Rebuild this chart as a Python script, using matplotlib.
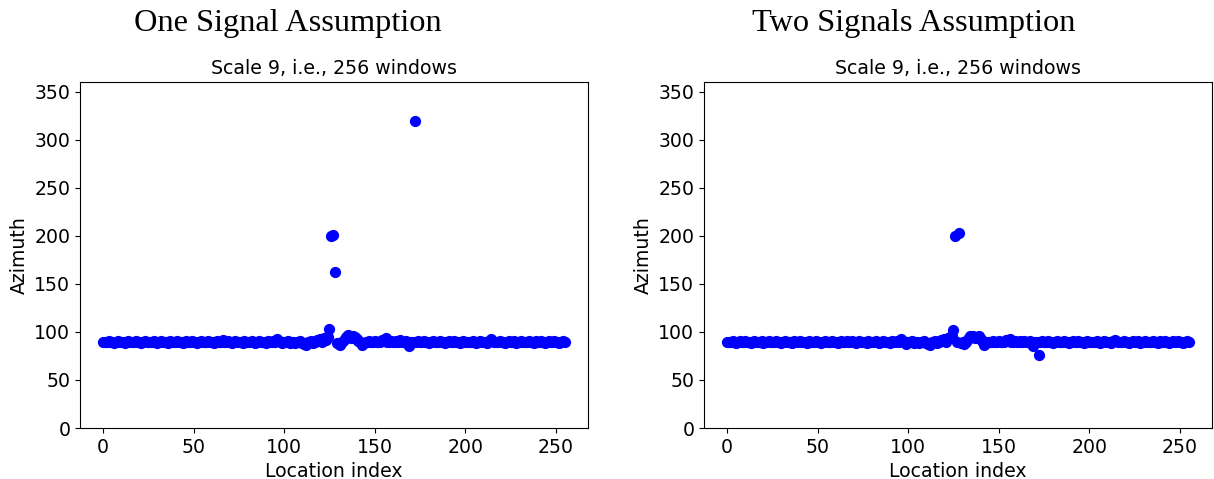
import matplotlib
matplotlib.use("Agg")
import matplotlib.pyplot as plt
import numpy as np

# Azimuth estimates per location index (0..255)
one_signal = [
    90, 89, 90, 91, 89, 90, 88, 90, 91, 89, 90, 89, 88, 90, 91, 90,
    89, 90, 91, 90, 89, 88, 90, 91, 89, 90, 90, 89, 91, 90, 88, 90,
    91, 89, 90, 90, 88, 91, 90, 89, 90, 91, 89, 90, 88, 90, 91, 89,
    90, 91, 89, 90, 88, 90, 91, 90, 89, 90, 91, 89, 90, 88, 90, 91,
    89, 90, 92, 90, 89, 91, 90, 88, 90, 91, 89, 90, 90, 88, 91, 90,
    89, 90, 91, 89, 88, 90, 91, 90, 89, 90, 88, 91, 90, 89, 91, 90,
    93, 91, 89, 88, 90, 89, 91, 88, 90, 89, 88, 90, 89, 91, 88, 87,
    86, 89, 90, 91, 88, 90, 92, 91, 93, 90, 94, 92, 95, 103, 200, 201,
    162, 88, 87, 86, 89, 92, 95, 97, 96, 94, 96, 95, 93, 91, 89, 86,
    88, 90, 89, 91, 90, 89, 91, 90, 89, 90, 92, 91, 94, 90, 89, 91,
    90, 89, 91, 90, 92, 90, 89, 91, 88, 85, 89, 90, 319, 90, 91, 89,
    90, 91, 89, 90, 88, 90, 91, 90, 89, 90, 91, 89, 90, 88, 90, 91,
    89, 90, 91, 90, 89, 88, 90, 91, 89, 90, 90, 89, 91, 90, 88, 90,
    91, 89, 90, 90, 88, 91, 93, 91, 90, 89, 90, 91, 89, 90, 88, 90,
    91, 89, 90, 91, 88, 90, 89, 91, 90, 89, 90, 91, 89, 90, 88, 91,
    90, 89, 91, 90, 88, 90, 91, 89, 90, 91, 89, 90, 88, 90, 91, 89,
]

two_signals = [
    90, 90, 89, 91, 90, 88, 90, 91, 89, 90, 91, 89, 90, 88, 90, 91,
    90, 89, 90, 91, 88, 90, 89, 91, 90, 89, 90, 91, 89, 90, 88, 90,
    91, 90, 89, 90, 88, 91, 90, 89, 91, 90, 89, 90, 88, 91, 90, 89,
    90, 91, 89, 90, 88, 90, 91, 89, 90, 90, 91, 89, 90, 88, 90, 91,
    89, 90, 91, 90, 89, 91, 90, 88, 90, 91, 89, 90, 90, 88, 91, 90,
    89, 90, 91, 89, 88, 90, 91, 90, 89, 90, 88, 91, 90, 89, 91, 90,
    93, 91, 89, 87, 90, 89, 91, 88, 90, 89, 88, 90, 89, 91, 88, 87,
    86, 89, 90, 91, 88, 90, 92, 91, 93, 90, 94, 95, 96, 102, 200, 90,
    203, 88, 89, 87, 90, 93, 96, 95, 96, 94, 95, 96, 93, 91, 86, 88,
    89, 90, 89, 91, 90, 89, 91, 90, 89, 90, 92, 91, 93, 90, 89, 91,
    90, 89, 91, 90, 91, 90, 89, 91, 88, 85, 89, 90, 76, 90, 91, 89,
    90, 91, 89, 90, 88, 90, 91, 90, 89, 90, 91, 89, 90, 88, 90, 91,
    89, 90, 91, 90, 89, 88, 90, 91, 89, 90, 90, 89, 91, 90, 88, 90,
    91, 89, 90, 90, 88, 91, 92, 91, 90, 89, 90, 91, 89, 90, 88, 90,
    91, 89, 90, 91, 88, 90, 89, 91, 90, 89, 90, 91, 89, 90, 88, 91,
    90, 89, 91, 90, 88, 90, 91, 89, 90, 91, 89, 90, 88, 90, 91, 89,
]

panel_titles = ["One Signal Assumption", "Two Signals Assumption"]
subtitle = "Scale 9, i.e., 256 windows"
series = [one_signal, two_signals]

fig = plt.figure(figsize=(12.14, 4.79), dpi=100)
lefts = [80 / 1214, 704 / 1214]
width = 508 / 1214
bottom = 1 - 428 / 479
height = (428 - 82) / 479
title_x = [288 / 1214, 914 / 1214]
fs = 13.6

for i in range(2):
    ax = fig.add_axes([lefts[i], bottom, width, height])
    y = series[i]
    x = np.arange(len(y))
    ax.scatter(x, y, c="blue", s=50)
    ax.set_ylim(0, 360)
    ax.set_yticks([0, 50, 100, 150, 200, 250, 300, 350])
    ax.set_xticks([0, 50, 100, 150, 200, 250])
    ax.tick_params(labelsize=fs)
    ax.set_title(subtitle, fontsize=fs)
    ax.set_xlabel("Location index", fontsize=fs)
    ax.set_ylabel("Azimuth", fontsize=fs)
    fig.text(title_x[i], 1 - 23 / 479, panel_titles[i], ha="center", va="center",
             family="Liberation Serif", fontsize=23.3)

fig.savefig("out.png", dpi=100)
